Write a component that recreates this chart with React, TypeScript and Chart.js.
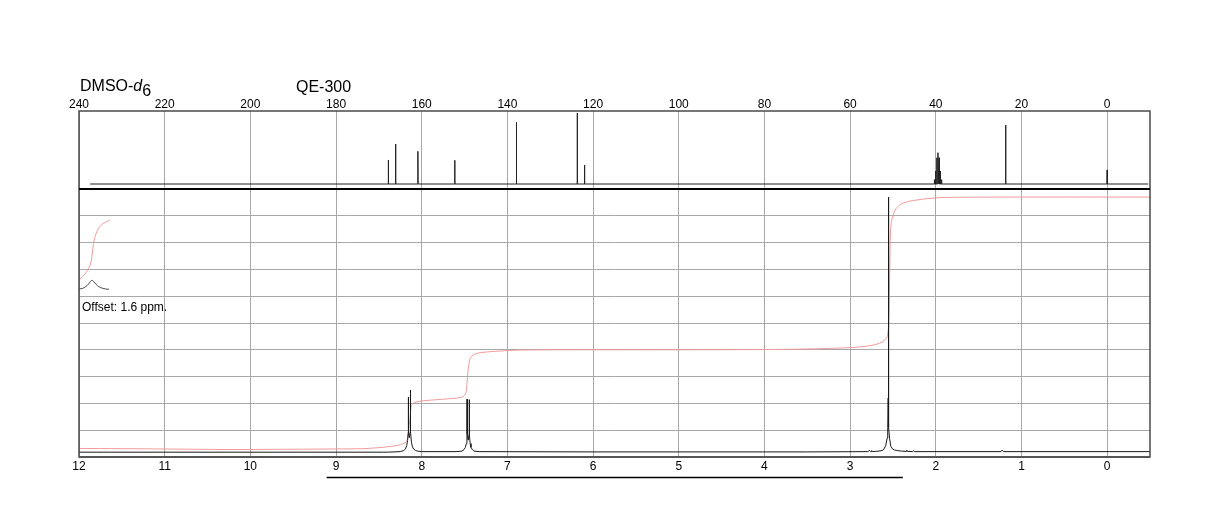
import React, { useEffect, useRef } from 'react';
import { Chart, registerables } from 'chart.js';

Chart.register(...registerables);

const FONT = '"Liberation Sans", Arial, Helvetica, sans-serif';

// ---- axis ticks ----
const cTicks = [240, 220, 200, 180, 160, 140, 120, 100, 80, 60, 40, 20, 0];
const hTicks = [12, 11, 10, 9, 8, 7, 6, 5, 4, 3, 2, 1, 0];
const hGridRows = [0, 1, 2, 3, 4, 5, 6, 7, 8, 9, 10];

// ---- 13C spectrum (top panel) ----
const c13Shifts = [167.8, 166.1, 160.9, 152.3, 137.9, 123.7, 122.0, 23.7, 0.0];
const c13Heights = [37.2, 57.7, 48.3, 36.8, 85.5, 97.4, 30.8, 82.0, 24.4];
const dmsoShifts = [40.34, 40.06, 39.78, 39.5, 39.22, 38.94, 38.66];
const dmsoHeights = [12, 23, 40, 46.5, 40, 23, 12];
const c13Baseline = 6.4;
const c13Range = [237.4, -9.6];

// ---- 1H spectrum (bottom panel) ----
const h1Ppm = [
  12.0, 8.4, 8.25, 8.21, 8.19, 8.175, 8.165, 8.158, 8.156, 8.154, 8.145, 8.134, 8.132, 8.13, 8.12, 8.108, 8.095, 8.075, 8.05, 8.0,
  7.6, 7.53, 7.505, 7.49, 7.48, 7.472, 7.47, 7.468, 7.458, 7.447, 7.445, 7.443, 7.435, 7.425, 7.41, 7.39, 7.33,
  6.0, 3.5, 2.8, 2.785, 2.775, 2.765, 2.755, 2.747, 2.738, 2.7, 2.64, 2.61, 2.585, 2.568, 2.561, 2.556, 2.554, 2.552, 2.547, 2.54, 2.525,
  2.505, 2.48, 2.45, 2.4, 2.345, 2.338, 2.33, 2.27, 2.26, 2.25, 1.24, 1.225, 1.21, -0.5,
];
const h1Int = [
  0.18, 0.18, 0.2, 0.24, 0.3, 0.42, 0.62, 0.9, 2.24, 0.9, 0.72, 0.95, 2.5, 0.95, 0.55, 0.38, 0.3, 0.25, 0.22, 0.2,
  0.2, 0.22, 0.28, 0.36, 0.5, 0.85, 2.16, 0.85, 0.63, 0.85, 2.14, 0.85, 0.5, 0.36, 0.28, 0.22, 0.2,
  0.19, 0.19, 0.2, 0.21, 0.25, 0.21, 0.2, 0.24, 0.2, 0.21, 0.23, 0.27, 0.42, 0.7, 1.1, 2.2, 9.7, 2.2, 1.1, 0.7, 0.4,
  0.3, 0.26, 0.24, 0.22, 0.21, 0.25, 0.21, 0.2, 0.24, 0.2, 0.2, 0.26, 0.2, 0.2,
];

// ---- 1H integral curve ----
const intPpm = [
  12.0, 11.0, 10.3, 9.5, 9.0, 8.7, 8.5, 8.35, 8.25, 8.2, 8.17, 8.155, 8.145, 8.135, 8.125, 8.11, 8.08, 8.0, 7.9, 7.7, 7.55,
  7.5, 7.48, 7.47, 7.46, 7.45, 7.44, 7.42, 7.38, 7.3, 7.1, 6.85, 6.0, 5.0, 4.0, 3.5, 3.0, 2.8, 2.7, 2.62, 2.585,
  2.565, 2.55, 2.54, 2.535, 2.53, 2.52, 2.5, 2.475, 2.43, 2.38, 2.3, 2.22, 2.1, 1.99, 1.8, 1.0, -0.5,
];
const intVal = [
  0.32, 0.3, 0.28, 0.29, 0.3, 0.31, 0.35, 0.4, 0.46, 0.52, 0.62, 0.9, 1.2, 1.5, 1.85, 1.98, 2.04, 2.09, 2.12, 2.17, 2.22,
  2.3, 2.45, 2.8, 3.2, 3.45, 3.62, 3.75, 3.84, 3.9, 3.95, 3.99, 4.0, 4.0, 4.01, 4.03, 4.08, 4.14, 4.2, 4.3, 4.4,
  4.5, 5.0, 6.5, 7.6, 8.3, 8.75, 9.0, 9.22, 9.38, 9.48, 9.55, 9.59, 9.64, 9.67, 9.69, 9.7, 9.7,
];

// ---- offset inset (shifted by 1.6 ppm) ----
const insetPpm = [12.0, 11.96, 11.92, 11.89, 11.865, 11.848, 11.83, 11.8, 11.77, 11.73, 11.69, 11.65];
const insetInt = [6.27, 6.29, 6.36, 6.45, 6.55, 6.6, 6.55, 6.44, 6.36, 6.3, 6.27, 6.26];
const insetIntPpm = [12.0, 11.99, 11.93, 11.87, 11.85, 11.83, 11.8, 11.74, 11.64];
const insetIntVal = [6.54, 6.64, 6.83, 7.16, 7.47, 7.97, 8.35, 8.66, 8.84];

const zip = (xs: number[], ys: number[]) => xs.map((x, i) => ({ x, y: ys[i] }));

function buildC13Points() {
  const lines = c13Shifts
    .map((x, i) => ({ x, h: c13Heights[i] }))
    .concat(dmsoShifts.map((x, i) => ({ x, h: dmsoHeights[i] })))
    .sort((a, b) => b.x - a.x);
  const pts: { x: number; y: number }[] = [{ x: c13Range[0], y: c13Baseline }];
  for (const l of lines) {
    pts.push({ x: l.x + 0.05, y: c13Baseline });
    pts.push({ x: l.x, y: l.h });
    pts.push({ x: l.x - 0.05, y: c13Baseline });
  }
  pts.push({ x: c13Range[1], y: c13Baseline });
  return pts;
}

const framePlugin = {
  id: 'nmrFrame',
  afterDraw(chart: any) {
    const { ctx, chartArea: a, scales } = chart;
    const yH = scales.yH;
    const xH = scales.xH;
    ctx.save();
    ctx.strokeStyle = '#4a4a4a';
    ctx.lineWidth = 1.5;
    ctx.strokeRect(a.left, a.top, a.right - a.left, a.bottom - a.top);
    ctx.strokeStyle = '#000';
    ctx.lineWidth = 2;
    ctx.beginPath();
    ctx.moveTo(a.left, yH.top);
    ctx.lineTo(a.right, yH.top);
    ctx.stroke();
    ctx.strokeStyle = '#555';
    ctx.lineWidth = 2;
    ctx.beginPath();
    ctx.moveTo(a.left, a.bottom);
    ctx.lineTo(a.right, a.bottom);
    ctx.stroke();
    // underline bar below the 1H axis
    ctx.strokeStyle = '#000';
    ctx.lineWidth = 1.5;
    ctx.beginPath();
    ctx.moveTo(xH.getPixelForValue(9.11), a.bottom + 20.5);
    ctx.lineTo(xH.getPixelForValue(2.385), a.bottom + 20.5);
    ctx.stroke();
    ctx.restore();
  },
};

export default function App() {
  const ref = useRef<HTMLCanvasElement | null>(null);

  useEffect(() => {
    document.body.style.margin = '0';
    const canvas = ref.current;
    if (!canvas) return;
    const tickFont = { family: FONT, size: 12 };
    const chart = new Chart(canvas, {
      type: 'line',
      data: {
        datasets: [
          {
            label: '1H',
            data: zip(h1Ppm, h1Int),
            xAxisID: 'xH',
            yAxisID: 'yH',
            borderColor: '#1a1a1a',
            borderWidth: 1,
            pointRadius: 0,
            tension: 0,
          },
          {
            label: 'inset',
            data: zip(insetPpm, insetInt),
            xAxisID: 'xH',
            yAxisID: 'yH',
            borderColor: '#444',
            borderWidth: 1,
            pointRadius: 0,
            tension: 0.3,
          },
          {
            label: '13C',
            data: buildC13Points(),
            xAxisID: 'xC',
            yAxisID: 'yC',
            borderColor: '#222',
            borderWidth: 1,
            pointRadius: 0,
            tension: 0,
          },
          {
            label: 'integral',
            data: zip(intPpm, intVal),
            xAxisID: 'xH',
            yAxisID: 'yH',
            borderColor: '#f29a9a',
            borderWidth: 1,
            pointRadius: 0,
            tension: 0.3,
          },
          {
            label: 'inset integral',
            data: zip(insetIntPpm, insetIntVal),
            xAxisID: 'xH',
            yAxisID: 'yH',
            borderColor: '#f29a9a',
            borderWidth: 1,
            pointRadius: 0,
            tension: 0.3,
          },
        ],
      },
      options: {
        responsive: false,
        devicePixelRatio: 1,
        animation: false,
        events: [],
        layout: { padding: { left: 79, right: 74, top: 0, bottom: 0 } },
        plugins: { legend: { display: false }, tooltip: { enabled: false } },
        scales: {
          xC: {
            type: 'linear',
            position: 'top',
            min: -10,
            max: 240,
            reverse: true,
            afterBuildTicks: (s: any) => {
              s.ticks = cTicks.map((v) => ({ value: v }));
            },
            ticks: { font: tickFont, color: '#000', padding: -1, maxRotation: 0, autoSkip: false },
            grid: { display: false, drawTicks: false },
            border: { display: false },
            afterFit: (s: any) => {
              s.height = 111;
            },
          },
          xH: {
            type: 'linear',
            position: 'bottom',
            min: -0.5,
            max: 12,
            reverse: true,
            afterBuildTicks: (s: any) => {
              s.ticks = hTicks.map((v) => ({ value: v }));
            },
            ticks: { font: tickFont, color: '#000', padding: 2, maxRotation: 0, autoSkip: false },
            grid: { color: '#a8a8a8', lineWidth: 1, drawTicks: false },
            border: { display: false },
            afterFit: (s: any) => {
              s.height = 71;
            },
          },
          yC: {
            type: 'linear',
            position: 'left',
            stack: 'nmr',
            stackWeight: 78,
            weight: 2,
            min: 0,
            max: 100,
            ticks: { display: false },
            grid: { display: false, drawTicks: false },
            border: { display: false },
            afterFit: (s: any) => {
              s.width = 0;
            },
          },
          yH: {
            type: 'linear',
            position: 'left',
            stack: 'nmr',
            stackWeight: 268,
            weight: 1,
            min: 0,
            max: 10,
            afterBuildTicks: (s: any) => {
              s.ticks = hGridRows.map((v) => ({ value: v }));
            },
            ticks: { display: false },
            grid: { color: '#a8a8a8', lineWidth: 1, drawTicks: false },
            border: { display: false },
            afterFit: (s: any) => {
              s.width = 0;
            },
          },
        },
      },
      plugins: [framePlugin],
    } as any);
    return () => chart.destroy();
  }, []);

  const textBase: React.CSSProperties = {
    position: 'absolute',
    fontFamily: FONT,
    color: '#000',
    whiteSpace: 'nowrap',
    lineHeight: 1,
  };

  return (
    <div style={{ position: 'relative', width: 1224, height: 528, background: '#fff', overflow: 'hidden' }}>
      <canvas ref={ref} width={1224} height={528} style={{ display: 'block', width: 1224, height: 528 }} />
      <div style={{ ...textBase, left: 80, top: 77.5, fontSize: 16 }}>
        DMSO-<i>d</i>
        <span style={{ position: 'relative', top: 5.5 }}>6</span>
      </div>
      <div style={{ ...textBase, left: 296, top: 78.5, fontSize: 16 }}>QE-300</div>
      <div style={{ ...textBase, left: 82, top: 301, fontSize: 12 }}>Offset: 1.6 ppm.</div>
    </div>
  );
}
